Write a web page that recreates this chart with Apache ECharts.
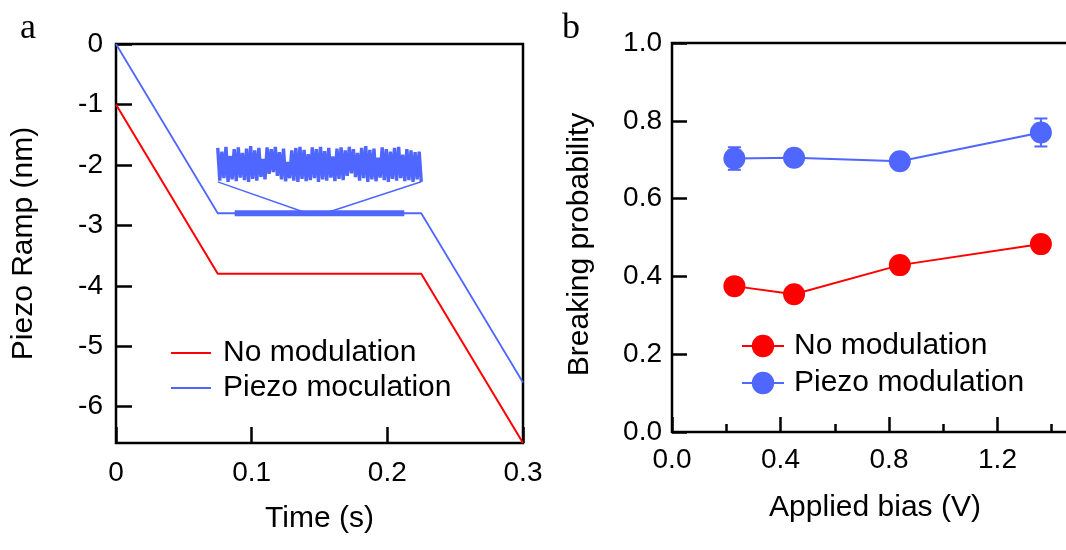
<!DOCTYPE html>
<html>
<head>
<meta charset="utf-8">
<script src="https://cdn.jsdelivr.net/npm/echarts@6/dist/echarts.min.js"></script>
<style>
html, body { margin: 0; padding: 0; background: #fff; }
#chartA { position: absolute; left: 0; top: 0; width: 560px; height: 550px; }
#chartB { position: absolute; left: 540px; top: 0; width: 526px; height: 550px; }
</style>
</head>
<body>
<div id="chartA"></div>
<div id="chartB"></div>
<script>
// ---- panel a : piezo ramp ----
var timeA = [0, 0.075, 0.225, 0.3];
var rampNoMod = [-1, -3.8, -3.8, -6.6];
var rampPiezo = [0, -2.8, -2.8, -5.6];
var bandTimes = [0.0875, 0.2125];   // thick modulated part on the blue plateau
var bandLevel = -2.8;
var insetStart = 0.075, insetEnd = 0.225;
// zoomed modulation (upper / lower swing of each period)
var insetHigh = [-1.72, -1.78, -1.70, -1.85, -1.74, -1.71, -1.80, -1.73, -1.69, -1.76,
                 -1.72, -1.90, -1.71, -1.74, -1.70, -1.79, -1.73, -1.95, -1.76, -1.72,
                 -1.70, -1.75, -1.82, -1.71, -1.74, -1.70, -1.77, -1.72, -1.86, -1.73,
                 -1.71, -1.76, -1.70, -1.74, -1.80, -1.72, -1.69, -1.75, -1.73, -1.88,
                 -1.71, -1.74, -1.78, -1.72, -1.70, -1.83, -1.74, -1.76, -1.79, -1.78];
var insetLow = [-2.26, -2.22, -2.28, -2.24, -2.27, -2.21, -2.25, -2.28, -2.23, -2.26,
                -2.20, -2.24, -2.15, -2.12, -2.18, -2.24, -2.27, -2.22, -2.26, -2.28,
                -2.23, -2.27, -2.25, -2.22, -2.28, -2.24, -2.26, -2.21, -2.27, -2.23,
                -2.25, -2.18, -2.14, -2.20, -2.26, -2.22, -2.28, -2.24, -2.27, -2.21,
                -2.25, -2.28, -2.23, -2.26, -2.22, -2.27, -2.25, -2.28, -2.24, -2.28];
var zoomLeft = [[0.075, -2.28], [0.141, -2.8]];
var zoomRight = [[0.225, -2.28], [0.154, -2.8]];

// ---- panel b : breaking probability ----
var bias = [0.23, 0.45, 0.84, 1.36];
var probNoMod = [0.375, 0.354, 0.429, 0.483];
var probPiezo = [0.703, 0.705, 0.696, 0.770];
var errNoMod = [0.012, 0.012, 0.012, 0.012];
var errPiezo = [0.029, 0.008, 0.008, 0.036];

var RED = '#ff0000';
var BLUE = '#4f66ff';
var FONT = '"Liberation Sans", Arial, sans-serif';

function pairs(xs, ys) {
    return xs.map(function (x, i) { return [x, ys[i]]; });
}

// build the inset wave from the two lists
var insetData = [];
var nPts = insetHigh.length * 2;
for (var i = 0; i < insetHigh.length; i++) {
    insetData.push([insetStart + (insetEnd - insetStart) * (2 * i) / (nPts - 1), insetHigh[i]]);
    insetData.push([insetStart + (insetEnd - insetStart) * (2 * i + 1) / (nPts - 1), insetLow[i]]);
}

var chartA = echarts.init(document.getElementById('chartA'));
var optionA = {
    animation: false,
    graphic: [{
        type: 'text', left: 20, top: 11,
        style: { text: 'a', font: '36px "Liberation Serif", "Times New Roman", serif', fill: '#000' }
    }],
    grid: {
        left: 116, top: 44, width: 407, height: 399, outerBoundsMode: 'none',
        show: true, borderColor: '#000', borderWidth: 2.5
    },
    legend: {
        left: 166, top: 333, orient: 'vertical', itemGap: 5,
        itemWidth: 40, itemHeight: 2, icon: 'rect',
        textStyle: { fontFamily: FONT, fontSize: 30, color: '#000', padding: [0, 0, 0, 7] },
        data: ['No modulation', 'Piezo moculation']
    },
    xAxis: {
        type: 'value', min: 0, max: 0.3, interval: 0.1,
        name: 'Time (s)', nameLocation: 'middle', nameGap: 61,
        nameTextStyle: { fontFamily: FONT, fontSize: 30, color: '#000' },
        axisLine: { show: false, onZero: false },
        axisTick: { inside: true, length: 16, lineStyle: { color: '#000', width: 2.5 } },
        axisLabel: { fontFamily: FONT, fontSize: 28, color: '#000', margin: 16 },
        splitLine: { show: false }
    },
    yAxis: {
        type: 'value', min: -6.6, max: 0, splitNumber: 7,
        name: 'Piezo Ramp (nm)', nameLocation: 'middle', nameGap: 77,
        nameTextStyle: { fontFamily: FONT, fontSize: 30, color: '#000' },
        axisLine: { show: false, onZero: false },
        axisTick: { inside: true, length: 16, lineStyle: { color: '#000', width: 2.5 } },
        axisLabel: { fontFamily: FONT, fontSize: 28, color: '#000', margin: 13, showMinLabel: false },
        splitLine: { show: false }
    },
    series: [
        {
            name: 'No modulation', type: 'line', symbol: 'none', z: 3,
            lineStyle: { color: RED, width: 2 }, itemStyle: { color: RED },
            data: pairs(timeA, rampNoMod)
        },
        {
            name: 'Piezo moculation', type: 'line', symbol: 'none', z: 3,
            lineStyle: { color: BLUE, width: 1.8 }, itemStyle: { color: BLUE },
            data: pairs(timeA, rampPiezo)
        },
        {
            name: 'band', type: 'line', symbol: 'none', z: 4,
            lineStyle: { color: BLUE, width: 6 },
            data: bandTimes.map(function (t) { return [t, bandLevel]; })
        },
        {
            name: 'inset', type: 'line', symbol: 'none', z: 4,
            lineStyle: { color: BLUE, width: 3.4, join: 'bevel' },
            data: insetData
        },
        {
            name: 'zoomL', type: 'line', symbol: 'none', z: 4,
            lineStyle: { color: BLUE, width: 1.5 }, data: zoomLeft
        },
        {
            name: 'zoomR', type: 'line', symbol: 'none', z: 4,
            lineStyle: { color: BLUE, width: 1.5 }, data: zoomRight
        }
    ]
};
chartA.setOption(optionA);

function errorBars(vals, errs, color) {
    var data = bias.map(function (b, i) { return [b, vals[i] - errs[i], vals[i] + errs[i]]; });
    return {
        type: 'custom', name: 'err', z: 2, silent: true,
        encode: { x: 0, y: [1, 2] },
        data: data,
        renderItem: function (params, api) {
            var lo = api.coord([api.value(0), api.value(1)]);
            var hi = api.coord([api.value(0), api.value(2)]);
            var w = 6.5;
            var st = { stroke: color, lineWidth: 2 };
            return {
                type: 'group',
                children: [
                    { type: 'line', shape: { x1: lo[0], y1: lo[1], x2: hi[0], y2: hi[1] }, style: st },
                    { type: 'line', shape: { x1: lo[0] - w, y1: lo[1], x2: lo[0] + w, y2: lo[1] }, style: st },
                    { type: 'line', shape: { x1: hi[0] - w, y1: hi[1], x2: hi[0] + w, y2: hi[1] }, style: st }
                ]
            };
        }
    };
}

var chartB = echarts.init(document.getElementById('chartB'));
var optionB = {
    animation: false,
    graphic: [{
        type: 'text', left: 22, top: 11,
        style: { text: 'b', font: '36px "Liberation Serif", "Times New Roman", serif', fill: '#000' }
    }],
    grid: {
        left: 132, top: 43, width: 434, height: 389, outerBoundsMode: 'none',
        show: true, borderColor: '#000', borderWidth: 2.5
    },
    legend: {
        left: 196, top: 326, orient: 'vertical', itemGap: 7,
        itemWidth: 42, itemHeight: 28,
        textStyle: { fontFamily: FONT, fontSize: 30, color: '#000', padding: [0, 0, 0, 5] },
        data: ['No modulation', 'Piezo modulation']
    },
    xAxis: {
        type: 'value', min: 0, max: 1.6, interval: 0.4,
        name: 'Applied bias (V)', nameLocation: 'middle', nameGap: 61,
        nameTextStyle: { fontFamily: FONT, fontSize: 30, color: '#000', padding: [0, 28, 0, 0] },
        axisLine: { show: false, onZero: false },
        axisTick: { inside: true, length: 15, lineStyle: { color: '#000', width: 2.5 } },
        minorTick: { show: true, splitNumber: 2, length: 8, lineStyle: { color: '#000', width: 2.5 } },
        axisLabel: {
            fontFamily: FONT, fontSize: 28, color: '#000', margin: 14,
            formatter: function (v) { return v.toFixed(1); }
        },
        splitLine: { show: false }
    },
    yAxis: {
        type: 'value', min: 0, max: 1, interval: 0.2,
        name: 'Breaking probability', nameLocation: 'middle', nameGap: 77,
        nameTextStyle: { fontFamily: FONT, fontSize: 30, color: '#000', padding: [0, 14, 0, 0] },
        axisLine: { show: false, onZero: false },
        axisTick: { inside: true, length: 15, lineStyle: { color: '#000', width: 2.5 } },
        axisLabel: {
            fontFamily: FONT, fontSize: 28, color: '#000', margin: 10,
            formatter: function (v) { return v.toFixed(1); }
        },
        splitLine: { show: false }
    },
    series: [
        errorBars(probNoMod, errNoMod, RED),
        errorBars(probPiezo, errPiezo, BLUE),
        {
            name: 'No modulation', type: 'line', symbol: 'circle', symbolSize: 22, z: 3,
            lineStyle: { color: RED, width: 2 }, itemStyle: { color: RED },
            data: pairs(bias, probNoMod)
        },
        {
            name: 'Piezo modulation', type: 'line', symbol: 'circle', symbolSize: 22, z: 3,
            lineStyle: { color: BLUE, width: 2 }, itemStyle: { color: BLUE },
            data: pairs(bias, probPiezo)
        }
    ]
};
chartB.setOption(optionB);
</script>
</body>
</html>
